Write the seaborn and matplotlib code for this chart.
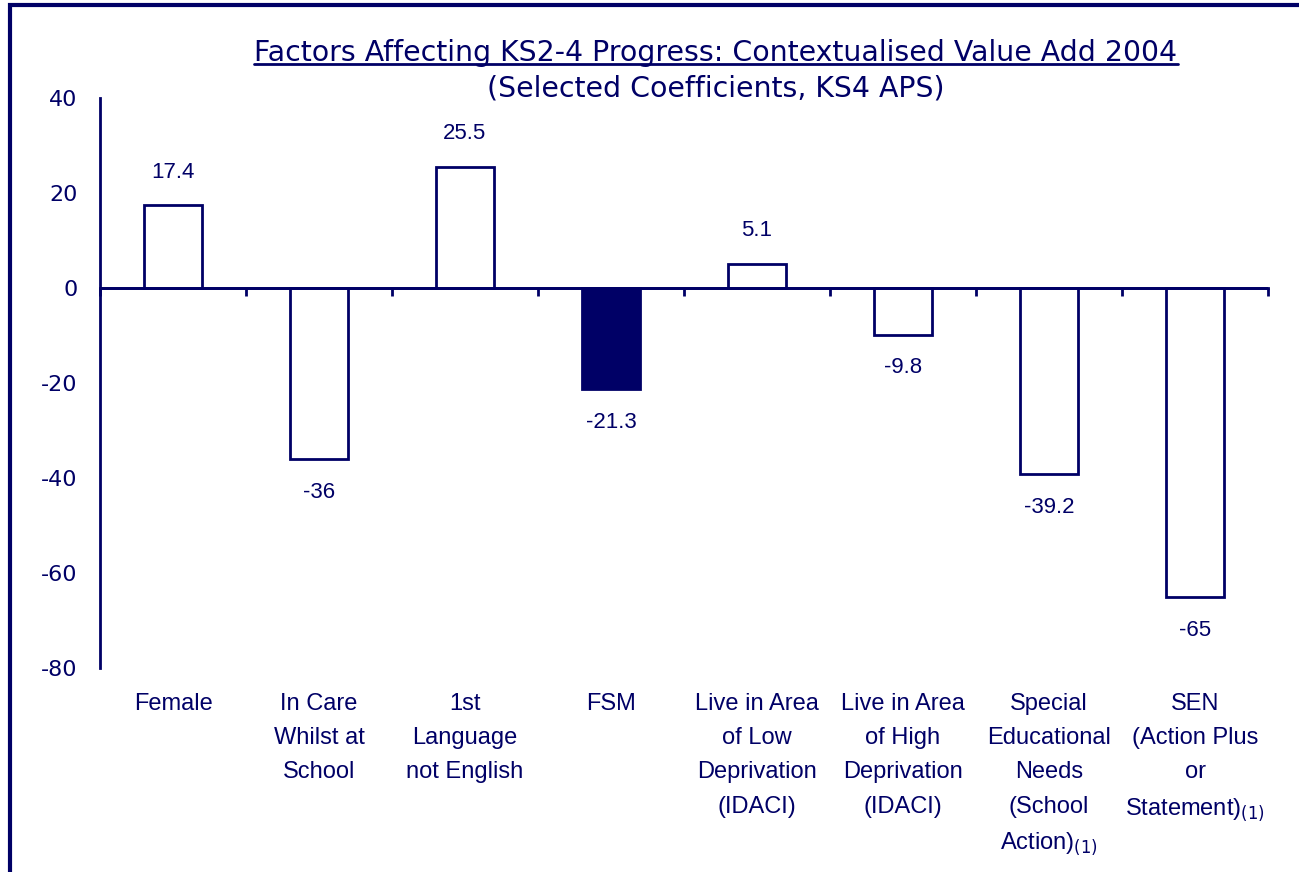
import matplotlib
matplotlib.use("Agg")
import matplotlib.pyplot as plt
import matplotlib.patches as mpatches
from matplotlib.lines import Line2D
import seaborn as sns
import pandas as pd

# chart data
categories = [
    "Female",
    "In Care\nWhilst at\nSchool",
    "1st\nLanguage\nnot English",
    "FSM",
    "Live in Area\nof Low\nDeprivation\n(IDACI)",
    "Live in Area\nof High\nDeprivation\n(IDACI)",
    "Special\nEducational\nNeeds\n(School\nAction)$_{(1)}$",
    "SEN\n(Action Plus\nor\nStatement)$_{(1)}$",
]
values = [17.4, -36, 25.5, -21.3, 5.1, -9.8, -39.2, -65]
value_labels = ["17.4", "-36", "25.5", "-21.3", "5.1", "-9.8", "-39.2", "-65"]
highlight = "FSM"

NAVY = "#000066"

sns.set_theme(style="white")
plt.rcParams["font.family"] = ["Liberation Sans", "DejaVu Sans"]
plt.rcParams["mathtext.fontset"] = "custom"
plt.rcParams["mathtext.rm"] = "DejaVu Sans"
plt.rcParams["axes.unicode_minus"] = False

df = pd.DataFrame({"cat": categories, "val": values})
fills = {c: (NAVY if c.startswith(highlight) else "white") for c in categories}

fig = plt.figure(figsize=(12.99, 8.72), dpi=100)
ax = fig.add_axes([100 / 1299, 1 - 668 / 872, 1168 / 1299, 570 / 872])

sns.barplot(data=df, x="cat", y="val", hue="cat", palette=fills, legend=False,
            width=0.4, saturation=1, edgecolor=NAVY, linewidth=2, ax=ax)

ax.set_xlim(-0.5, len(categories) - 0.5)
ax.set_ylim(-80, 40)
ax.set_yticks(range(-80, 41, 20))
ax.set_xlabel("")
ax.set_ylabel("")

for s in ["top", "right", "bottom"]:
    ax.spines[s].set_visible(False)
ax.spines["left"].set_color(NAVY)
ax.spines["left"].set_linewidth(2)

ax.tick_params(axis="y", direction="in", length=7, width=2, color=NAVY,
               labelcolor=NAVY, pad=16)
for t in ax.get_yticklabels():
    t.set_fontfamily("DejaVu Sans")
    t.set_fontsize(16)
ax.tick_params(axis="x", length=0, pad=18, labelcolor=NAVY, labelsize=17)
for t in ax.get_xticklabels():
    t.set_linespacing(1.72)
    t.set_verticalalignment("top")

# zero line with boundary ticks (pointing down)
ax.axhline(0, color=NAVY, lw=2, zorder=1)
sec = ax.secondary_xaxis(80 / 120)
sec.set_xticks([i - 0.5 for i in range(len(categories) + 1)])
sec.set_xticklabels([])
sec.tick_params(direction="in", length=6, width=2, color=NAVY)
for s in sec.spines.values():
    s.set_color(NAVY)
    s.set_linewidth(2)

for i, (v, lab) in enumerate(zip(values, value_labels)):
    off = 24 if v > 0 else -24
    ax.annotate(lab, (i, v), xytext=(0, off), textcoords="offset points",
                ha="center", va="center", color=NAVY, fontsize=16)

# title
t1 = fig.text(716 / 1299, 1 - 61 / 872,
              "Factors Affecting KS2-4 Progress: Contextualised Value Add 2004",
              ha="center", va="baseline", color=NAVY, fontsize=20.4,
              family="DejaVu Sans")
fig.text(716 / 1299, 1 - 97 / 872, "(Selected Coefficients, KS4 APS)",
         ha="center", va="baseline", color=NAVY, fontsize=20.4,
         family="DejaVu Sans")
fig.canvas.draw()
bb = t1.get_window_extent()
uy = 1 - 64 / 872
fig.add_artist(Line2D([bb.x0 / 1299, bb.x1 / 1299], [uy, uy],
                      transform=fig.transFigure, color=NAVY, lw=2))

# frame around the chart area
fig.add_artist(mpatches.Rectangle((10 / 1299, -0.1), 1.2, 1.1 - 5 / 872,
                                  transform=fig.transFigure, fill=False,
                                  edgecolor=NAVY, lw=3))

fig.savefig("out.png", dpi=100)
